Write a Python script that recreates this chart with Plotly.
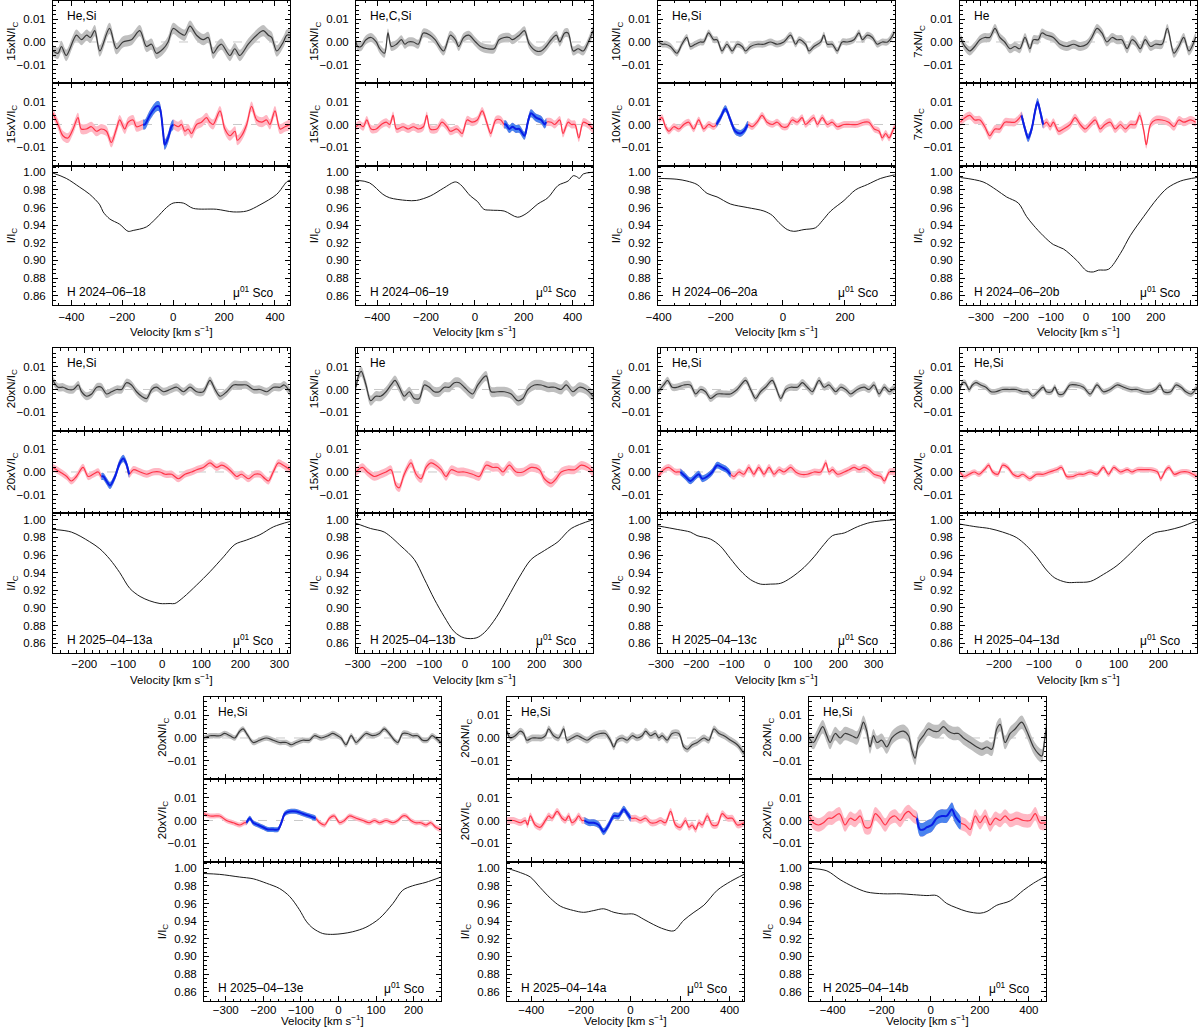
"""
plot.py
-------
LSD Stokes profiles (N, V, I) of mu01 Sco, one panel per observation.
"""

import plotly.graph_objects as go


# ---------------------------------------------------------------------------
# Data
# ---------------------------------------------------------------------------

LABELS = ["H 2024–06–18", "H 2024–06–19", "H 2024–06–20a", "H 2024–06–20b",
          "H 2025–04–13a", "H 2025–04–13b", "H 2025–04–13c", "H 2025–04–13d",
          "H 2025–04–13e", "H 2025–04–14a", "H 2025–04–14b"]
ELEMENTS = ["He,Si", "He,C,Si", "He,Si", "He", "He,Si", "He", "He,Si", "He,Si",
            "He,Si", "He,Si", "He,Si"]
SCALES = [15, 15, 10, 7, 20, 15, 20, 20, 20, 20, 20]
X_MIN = [-472, -487, -402, -360, -280, -305, -308, -298, -358, -498, -497]
X_MAX = [459, 484, 361, 318, 327, 358, 360, 297, 273, 458, 470]
X_DTICK = [200, 200, 200, 100, 100, 100, 100, 100, 100, 200, 200]
# velocity window of the detected signature (blue)
BLUE_LO = [-118, 120, -214, -185, -156, None, -245, None, -245, -186, -57]
BLUE_HI = [0, 292, -113, -122, -85, None, -104, None, -61, 0, 120]
N_ERR = [0.0025, 0.002, 0.0015, 0.002, 0.0018, 0.0022, 0.0016, 0.0013, 0.0012, 0.0015, 0.003]
V_ERR = [0.0022, 0.0018, 0.0015, 0.0018, 0.0016, 0.0019, 0.0015, 0.0012, 0.0011, 0.0015, 0.003]

# --- 2024-06-18
vn1 = [-472, -452, -439, -420, -380, -360, -340, -325, -308, -288, -250, -223, -197, -164, -131,
       -105, -85, -66, -39, -20, 0, 26, 45, 66, 92, 118, 138, 157, 177, 190, 223, 242, 262, 295,
       328, 354, 374, 387, 407, 433, 446, 459]
n1 = [-0.004, -0.005, -0.002, -0.006, 0.003, 0.001, 0.003, 0.002, 0.005, -0.004, 0.006, -0.003,
      0.000, 0.001, 0.005, -0.002, -0.001, -0.005, -0.003, 0.000, 0.006, 0.004, 0.003, 0.007,
      0.003, 0.001, 0.002, -0.005, -0.002, -0.001, -0.006, -0.003, -0.006, -0.001, 0.003, 0.005,
      0.003, 0.002, -0.004, 0.000, 0.003, 0.003]
vv1 = [-472, -452, -433, -413, -393, -374, -361, -341, -321, -302, -282, -262, -243, -223, -210,
       -190, -177, -157, -144, -118, -111, -92, -66, -55, -39, -33, -20, -7, 0, 20, 33, 46, 59, 72,
       92, 111, 131, 144, 157, 184, 203, 223, 243, 252, 269, 289, 308, 328, 348, 367, 380, 400,
       420, 439, 459]
v1 = [0.005, 0.000, -0.005, -0.006, -0.002, 0.003, -0.002, -0.002, -0.001, -0.003, -0.002, -0.003,
      -0.008, -0.002, 0.002, -0.002, 0.001, 0.002, -0.001, 0.000, 0.000, 0.004, 0.008, 0.008,
      -0.004, -0.009, -0.006, -0.001, 0.000, -0.001, 0.000, -0.003, -0.002, -0.004, 0.000, 0.001,
      0.003, 0.001, 0.000, 0.006, -0.002, -0.005, -0.003, -0.007, -0.005, 0.000, 0.008, 0.002,
      0.001, 0.002, 0.000, 0.006, -0.002, -0.001, 0.000]
vi1 = [-472, -420, -367, -328, -288, -275, -249, -210, -177, -157, -105, -66, -26, 0, 40, 79, 170,
       236, 289, 341, 407, 446, 459]
i1 = [0.999, 0.993, 0.983, 0.975, 0.963, 0.955, 0.947, 0.941, 0.933, 0.934, 0.938, 0.948, 0.960,
      0.965, 0.965, 0.959, 0.958, 0.955, 0.956, 0.963, 0.975, 0.989, 0.991]

# --- 2024-06-19
vn2 = [-487, -480, -466, -446, -425, -404, -390, -370, -356, -342, -321, -301, -287, -273, -252,
       -232, -211, -183, -163, -128, -101, -80, -66, -46, -25, 3, 23, 51, 79, 99, 120, 141, 154,
       182, 203, 223, 251, 272, 292, 313, 334, 348, 368, 382, 403, 423, 444, 465, 484]
n2 = [0.000, -0.002, -0.002, 0.001, 0.002, 0.000, -0.003, -0.005, 0.004, -0.002, -0.001, 0.001,
      -0.001, 0.000, 0.000, -0.001, 0.004, 0.003, 0.001, -0.004, 0.003, 0.001, -0.002, 0.002, 0.003,
      0.000, -0.002, -0.003, -0.003, 0.001, 0.002, 0.002, 0.001, 0.003, 0.005, -0.001, -0.004,
      -0.004, -0.002, 0.001, 0.003, 0.000, 0.004, 0.004, -0.004, -0.003, -0.004, 0.000, 0.005]
vv2 = [-487, -473, -457, -443, -425, -404, -383, -363, -349, -335, -321, -294, -273, -252, -232,
       -211, -197, -183, -156, -135, -114, -101, -73, -52, -32, -11, 10, 30, 51, 65, 86, 106, 120,
       127, 141, 154, 168, 182, 203, 217, 230, 251, 272, 286, 292, 313, 327, 348, 361, 382, 396,
       410, 426, 444, 465, 484]
v2 = [-0.001, 0.000, -0.001, 0.002, -0.002, -0.002, 0.000, 0.001, 0.000, 0.004, -0.002, -0.001,
      -0.002, -0.001, -0.002, -0.001, 0.004, -0.002, -0.002, 0.001, -0.001, -0.003, -0.002, -0.004,
      0.002, 0.001, 0.002, 0.006, 0.000, -0.004, 0.002, 0.002, 0.000, 0.000, -0.002, -0.001,
      -0.002, -0.002, -0.005, 0.001, 0.005, 0.003, 0.002, 0.000, 0.001, 0.001, 0.000, 0.002,
      -0.004, 0.001, 0.000, 0.000, -0.006, 0.001, 0.000, -0.002]
vi2 = [-487, -432, -377, -349, -280, -239, -183, -128, -80, -59, -18, 10, 37, 65, 120, 175, 210,
       258, 299, 341, 382, 403, 417, 428, 444, 484]
i2 = [0.991, 0.988, 0.975, 0.971, 0.968, 0.968, 0.973, 0.982, 0.989, 0.986, 0.973, 0.967, 0.958,
      0.957, 0.956, 0.949, 0.953, 0.964, 0.971, 0.985, 0.990, 0.996, 0.995, 0.993, 0.998, 1.000]

# --- 2024-06-20a
vn3 = [-400, -389, -378, -362, -341, -325, -309, -298, -282, -266, -255, -239, -223, -212, -196,
       -180, -163, -147, -131, -120, -104, -83, -61, -40, -18, 3, 25, 41, 52, 73, 84, 100, 122,
       132, 143, 159, 175, 191, 208, 229, 245, 256, 272, 288, 304, 320, 337, 358]
n3 = [0.000, -0.001, -0.001, -0.002, -0.005, -0.001, 0.002, -0.002, -0.001, 0.000, 0.000, 0.004,
      0.001, 0.001, -0.004, -0.001, -0.004, -0.001, -0.002, -0.004, -0.002, -0.001, -0.001, 0.000,
      -0.001, 0.000, 0.003, -0.001, 0.001, -0.001, -0.004, -0.002, 0.000, 0.003, -0.001, -0.001,
      -0.004, 0.000, 0.000, 0.001, 0.004, 0.001, 0.003, 0.002, -0.001, 0.000, 0.000, 0.004]
vv3 = [-400, -389, -378, -367, -351, -335, -319, -303, -287, -271, -255, -239, -223, -214, -201,
       -185, -169, -153, -137, -126, -113, -99, -83, -67, -51, -34, -18, -2, 14, 30, 46, 62, 73,
       89, 100, 111, 127, 143, 159, 175, 197, 218, 240, 261, 277, 294, 310, 320, 331, 342, 353,
       360]
v3 = [0.002, 0.003, -0.001, -0.003, -0.001, -0.002, 0.000, 0.001, -0.002, 0.002, -0.002, 0.000,
      -0.001, 0.000, 0.003, 0.007, 0.002, -0.003, -0.004, -0.003, 0.000, -0.001, 0.001, 0.004,
      0.001, 0.000, 0.001, -0.001, -0.001, 0.002, 0.001, 0.003, 0.000, 0.002, 0.003, 0.000, 0.003,
      0.000, 0.001, -0.001, 0.000, 0.000, 0.000, 0.001, 0.001, -0.002, -0.003, -0.006, -0.004,
      -0.006, -0.003, -0.001]
vi3 = [-400, -341, -309, -276, -244, -212, -169, -115, -61, -34, -13, 14, 35, 68, 105, 127, 154,
       197, 234, 272, 315, 360]
i3 = [0.993, 0.992, 0.990, 0.986, 0.976, 0.972, 0.964, 0.960, 0.956, 0.951, 0.943, 0.935, 0.933,
      0.935, 0.937, 0.945, 0.956, 0.968, 0.980, 0.986, 0.993, 0.997]

# --- 2024-06-20b
vn4 = [-359, -346, -332, -318, -303, -289, -275, -260, -246, -232, -217, -203, -189, -174, -160,
       -150, -136, -126, -112, -93, -74, -55, -35, -16, 3, 17, 32, 46, 60, 75, 89, 103, 118, 132,
       142, 156, 170, 185, 199, 218, 233, 252, 266, 280, 295, 314]
n4 = [0.002, -0.002, -0.004, -0.002, 0.001, 0.002, 0.002, 0.006, 0.002, 0.000, -0.003, -0.002,
      -0.003, 0.002, -0.003, 0.001, 0.001, 0.004, 0.003, 0.002, -0.001, -0.002, -0.001, -0.002,
      -0.001, 0.002, 0.006, 0.004, 0.000, 0.002, 0.001, 0.001, -0.003, 0.001, 0.000, -0.003, 0.001,
      -0.002, -0.001, -0.001, 0.006, -0.005, -0.002, 0.002, -0.004, 0.002]
vv4 = [-359, -346, -332, -318, -303, -289, -275, -260, -246, -232, -217, -203, -189, -184, -174,
       -165, -155, -145, -138, -131, -122, -112, -102, -93, -78, -64, -45, -31, -16, -2, 12, 27,
       41, 55, 70, 84, 99, 113, 127, 142, 154, 166, 173, 185, 199, 218, 237, 252, 266, 280, 300,
       314]
v4 = [0.001, 0.003, 0.004, 0.002, 0.002, -0.001, -0.005, -0.002, -0.002, 0.001, 0.001, 0.001,
      0.003, 0.004, -0.002, -0.006, -0.002, 0.006, 0.010, 0.006, 0.000, 0.001, -0.001, 0.001,
      -0.003, -0.002, 0.000, 0.003, 0.000, -0.002, 0.000, 0.002, -0.002, 0.000, 0.001, -0.002,
      0.000, -0.002, 0.000, 0.000, 0.004, -0.003, -0.009, 0.000, 0.002, 0.002, 0.001, -0.001,
      0.002, 0.001, 0.002, 0.001]
vi4 = [-359, -294, -256, -227, -193, -170, -150, -122, -93, -64, -26, 3, 22, 36, 65, 99, 127, 166,
       204, 233, 271, 318]
i4 = [0.994, 0.989, 0.980, 0.972, 0.965, 0.950, 0.940, 0.928, 0.918, 0.913, 0.900, 0.888, 0.887,
      0.889, 0.890, 0.908, 0.928, 0.950, 0.970, 0.982, 0.990, 0.994]

# --- 2025-04-13a
vn5 = [-280, -267, -254, -241, -228, -215, -207, -194, -181, -168, -156, -143, -130, -117, -104,
       -92, -79, -66, -53, -40, -27, -15, 3, 20, 37, 54, 71, 88, 105, 122, 135, 148, 165, 182, 199,
       216, 233, 250, 268, 285, 302, 312, 327]
n5 = [0.004, 0.001, 0.001, 0.000, 0.000, 0.002, -0.001, -0.003, -0.002, 0.001, 0.001, -0.002,
      -0.001, 0.000, 0.000, 0.003, 0.002, -0.001, -0.003, -0.004, 0.000, 0.001, -0.001, 0.000,
      0.001, -0.001, 0.001, -0.001, -0.001, 0.004, 0.000, -0.003, -0.001, 0.002, 0.002, 0.002,
      0.000, 0.000, -0.001, 0.001, 0.001, 0.002, -0.001]
vv5 = [-280, -262, -245, -233, -220, -203, -190, -177, -164, -156, -151, -143, -134, -121, -109,
       -100, -93, -85, -74, -57, -40, -23, -6, 7, 24, 41, 58, 75, 88, 105, 122, 139, 152, 165, 178,
       190, 203, 220, 237, 250, 263, 272, 284, 297, 310, 327]
v5 = [0.002, 0.000, -0.002, -0.004, -0.002, 0.002, -0.002, -0.001, 0.000, -0.002, -0.002, -0.004,
      -0.006, -0.002, 0.004, 0.006, 0.004, -0.001, 0.001, 0.000, -0.001, 0.000, 0.000, -0.001,
      -0.001, -0.003, -0.001, 0.000, 0.001, 0.002, 0.004, 0.002, 0.003, 0.002, 0.000, -0.002,
      -0.001, -0.003, -0.001, -0.001, -0.003, -0.004, 0.000, 0.004, 0.003, 0.001]
vi5 = [-280, -233, -186, -160, -134, -109, -83, -57, -32, -6, 20, 32, 54, 88, 122, 157, 186, 216,
       250, 285, 327]
i5 = [0.989, 0.986, 0.975, 0.967, 0.955, 0.940, 0.922, 0.913, 0.908, 0.905, 0.905, 0.905, 0.912,
      0.926, 0.941, 0.958, 0.972, 0.977, 0.983, 0.992, 0.998]

# --- 2025-04-13b
vn6 = [-305, -296, -290, -277, -264, -250, -236, -221, -207, -196, -184, -170, -156, -142, -128,
       -114, -100, -86, -72, -58, -44, -30, -16, -2, 21, 36, 59, 73, 92, 110, 129, 148, 162, 176,
       194, 213, 232, 250, 269, 283, 302, 320, 339, 358]
n6 = [0.001, 0.007, 0.008, 0.002, -0.005, -0.003, -0.003, -0.001, 0.002, 0.004, 0.001, -0.003,
      -0.001, -0.004, -0.004, 0.002, 0.001, -0.001, -0.001, 0.001, 0.001, 0.003, 0.003, 0.001,
      -0.002, 0.002, 0.006, -0.001, -0.001, -0.001, -0.002, -0.005, -0.004, 0.000, 0.002, 0.002,
      0.001, 0.001, 0.000, 0.002, -0.001, 0.001, 0.000, -0.003]
vv6 = [-305, -287, -273, -254, -236, -221, -207, -193, -184, -170, -151, -137, -123, -109, -95,
       -81, -67, -53, -39, -21, -2, 21, 40, 59, 78, 92, 106, 124, 143, 162, 185, 208, 222, 241,
       255, 269, 288, 307, 325, 344, 358]
v6 = [0.000, 0.002, 0.000, -0.002, -0.001, 0.000, 0.001, -0.006, -0.007, -0.001, 0.004, -0.001,
      -0.003, 0.002, 0.004, 0.003, 0.001, -0.002, 0.001, 0.000, 0.000, -0.001, -0.002, 0.003,
      0.002, 0.002, 0.000, 0.003, 0.000, 0.000, 0.002, 0.001, -0.003, -0.005, -0.003, 0.000,
      0.001, 0.001, 0.003, 0.002, 0.000]
vi6 = [-305, -264, -226, -179, -142, -114, -86, -58, -30, -2, 31, 54, 87, 120, 152, 185, 222, 260,
       297, 358]
i6 = [0.996, 0.990, 0.986, 0.970, 0.955, 0.933, 0.910, 0.890, 0.873, 0.866, 0.866, 0.872, 0.889,
      0.912, 0.935, 0.955, 0.965, 0.975, 0.990, 1.000]

# --- 2025-04-13c
vn7 = [-308, -292, -281, -268, -254, -235, -217, -202, -188, -174, -160, -141, -122, -104, -85,
       -61, -47, -33, -19, -5, 14, 24, 38, 52, 66, 85, 99, 113, 127, 146, 160, 174, 193, 207, 221,
       235, 254, 273, 287, 301, 315, 330, 344, 360]
n7 = [-0.001, 0.002, 0.004, 0.001, 0.001, 0.002, 0.002, -0.002, 0.000, -0.001, -0.004, -0.002,
      -0.002, -0.002, 0.000, 0.004, 0.000, -0.004, -0.001, 0.001, 0.004, 0.001, -0.004, 0.000,
      0.001, 0.001, 0.003, 0.001, -0.001, 0.004, 0.001, 0.002, -0.001, 0.001, 0.000, -0.002,
      0.000, 0.001, 0.000, 0.002, -0.002, 0.001, -0.001, 0.001]
vv7 = [-308, -292, -278, -259, -245, -231, -217, -202, -193, -183, -169, -155, -141, -127, -115,
       -104, -94, -80, -66, -52, -38, -24, -9, 5, 19, 33, 47, 66, 80, 94, 113, 132, 151, 165, 174,
       184, 198, 217, 231, 245, 259, 273, 287, 301, 320, 330, 344, 360]
v7 = [-0.002, 0.001, 0.002, 0.000, 0.000, -0.002, -0.004, -0.002, -0.001, -0.003, -0.002, 0.000,
      0.003, 0.002, 0.001, -0.001, -0.002, 0.000, -0.001, 0.002, -0.001, 0.002, -0.001, 0.002,
      -0.001, 0.001, 0.000, 0.002, 0.000, -0.001, -0.001, 0.000, 0.000, 0.004, 0.000, 0.001,
      -0.001, 0.000, 0.001, 0.002, 0.001, 0.002, 0.001, -0.001, -0.002, -0.004, 0.000, 0.000]
vi7 = [-308, -254, -217, -198, -160, -132, -104, -75, -47, -19, 9, 38, 66, 104, 132, 160, 184,
       217, 254, 292, 360]
i7 = [0.993, 0.989, 0.986, 0.982, 0.978, 0.970, 0.956, 0.942, 0.932, 0.927, 0.927, 0.928, 0.934,
      0.946, 0.958, 0.972, 0.982, 0.985, 0.992, 0.997, 1.000]

# --- 2025-04-13d
vn8 = [-298, -292, -285, -275, -267, -258, -246, -233, -220, -208, -191, -174, -157, -140, -127,
       -115, -102, -89, -81, -68, -60, -51, -39, -22, -5, 12, 29, 46, 62, 79, 96, 113, 130, 147,
       164, 181, 193, 204, 214, 231, 244, 257, 269, 282, 297]
n8 = [0.000, 0.003, 0.003, 0.000, 0.002, 0.003, 0.002, 0.001, -0.001, -0.001, 0.000, 0.000, 0.000,
      -0.001, -0.001, -0.003, -0.001, 0.001, -0.001, -0.001, 0.001, -0.002, -0.002, 0.002, 0.002,
      0.001, -0.002, 0.002, -0.001, 0.000, 0.002, 0.001, 0.000, 0.000, -0.001, -0.001, 0.000,
      0.002, -0.001, -0.001, 0.002, 0.001, -0.001, -0.002, 0.001]
vv8 = [-298, -288, -275, -262, -250, -237, -226, -216, -203, -191, -178, -165, -153, -140, -123,
       -106, -89, -73, -56, -43, -30, -14, -1, 12, 29, 46, 62, 75, 88, 105, 122, 134, 147, 164,
       181, 198, 206, 219, 227, 240, 257, 274, 297]
v8 = [0.000, -0.002, -0.001, 0.000, -0.001, 0.001, 0.003, 0.000, -0.001, 0.003, 0.002, -0.001,
      -0.002, -0.001, -0.003, -0.001, -0.001, 0.000, 0.001, 0.002, -0.002, -0.002, -0.001, -0.001,
      0.000, -0.001, 0.002, -0.001, 0.002, 0.000, 0.001, 0.000, 0.001, 0.001, 0.001, 0.000,
      -0.003, 0.001, 0.002, -0.001, 0.000, 0.000, -0.002]
vi8 = [-298, -258, -224, -191, -157, -132, -106, -81, -60, -30, -5, 29, 62, 96, 130, 164, 190,
       223, 257, 297]
i8 = [0.995, 0.992, 0.990, 0.986, 0.980, 0.971, 0.958, 0.943, 0.934, 0.929, 0.929, 0.930, 0.938,
      0.948, 0.962, 0.977, 0.985, 0.988, 0.992, 0.999]

# --- 2025-04-13e
vn9 = [-358, -342, -329, -316, -303, -289, -276, -263, -254, -241, -227, -210, -192, -174, -157,
       -139, -126, -112, -95, -77, -64, -46, -28, -15, -2, 7, 20, 34, 47, 60, 73, 91, 109, 122, 135,
       149, 158, 171, 184, 197, 211, 224, 237, 249, 259, 273]
n9 = [0.000, 0.001, 0.001, 0.001, 0.002, 0.001, 0.000, 0.003, 0.004, 0.001, -0.002, -0.001, 0.000,
      -0.001, -0.002, -0.002, -0.003, -0.002, -0.001, -0.001, 0.001, 0.000, 0.001, 0.002, 0.001,
      0.000, -0.003, 0.001, -0.002, 0.000, 0.002, 0.001, 0.002, 0.004, 0.002, -0.001, -0.002,
      0.002, 0.002, 0.001, 0.001, -0.001, -0.001, 0.001, 0.000, -0.002]
vv9 = [-358, -342, -329, -316, -298, -280, -263, -250, -245, -236, -227, -214, -201, -188, -174,
       -161, -152, -143, -130, -112, -95, -77, -61, -50, -37, -24, -11, 3, 16, 29, 47, 65, 82, 96,
       109, 127, 145, 158, 171, 180, 193, 206, 219, 233, 246, 259, 273]
v9 = [0.003, 0.002, 0.002, 0.002, 0.000, -0.001, -0.002, -0.001, -0.001, 0.001, -0.001, -0.002,
      -0.003, -0.004, -0.004, -0.004, -0.001, 0.003, 0.004, 0.004, 0.003, 0.002, 0.001, -0.001,
      -0.002, 0.001, 0.002, -0.001, 0.000, 0.002, 0.001, 0.000, -0.001, 0.000, -0.001, 0.000,
      -0.001, 0.000, 0.002, 0.002, 0.000, -0.001, -0.001, -0.002, -0.001, -0.003, -0.004]
vi9 = [-358, -316, -263, -227, -192, -157, -130, -104, -86, -68, -42, -15, 12, 38, 73, 109, 145,
       171, 197, 233, 273]
i9 = [0.994, 0.993, 0.990, 0.988, 0.983, 0.977, 0.968, 0.953, 0.940, 0.932, 0.926, 0.925, 0.926,
      0.928, 0.933, 0.943, 0.960, 0.975, 0.980, 0.984, 0.990]

# --- 2025-04-14a
vn10 = [-498, -485, -465, -444, -431, -418, -397, -377, -357, -343, -330, -310, -290, -269, -256,
        -236, -215, -195, -175, -148, -121, -101, -81, -67, -54, -34, -13, 7, 27, 47, 61, 81, 101,
        114, 128, 148, 168, 195, 215, 229, 249, 269, 296, 316, 337, 357, 377, 404, 431, 458]
n10 = [0.003, 0.000, 0.001, 0.003, 0.002, -0.001, 0.000, 0.000, 0.000, 0.001, 0.004, 0.001, 0.000,
       0.004, -0.001, 0.000, 0.001, 0.000, -0.001, 0.001, 0.002, 0.002, -0.001, -0.004, -0.001,
       0.000, -0.001, 0.001, 0.000, 0.001, 0.003, 0.001, 0.002, 0.000, 0.001, -0.001, 0.002, 0.002,
       -0.004, -0.005, -0.003, -0.002, 0.000, -0.001, 0.004, 0.002, 0.001, -0.001, -0.003, -0.007]
vv10 = [-498, -472, -444, -424, -415, -404, -384, -364, -343, -330, -316, -296, -276, -263, -249,
        -236, -222, -209, -195, -186, -168, -148, -128, -108, -88, -67, -47, -27, -13, 0, 20, 40,
        61, 81, 101, 121, 141, 162, 182, 202, 222, 236, 249, 263, 276, 290, 310, 330, 350, 370,
        391, 411, 431, 458]
v10 = [0.000, 0.000, -0.001, 0.000, -0.002, 0.002, -0.002, -0.003, 0.000, 0.002, 0.001, 0.004,
       0.001, 0.000, 0.002, -0.001, 0.000, 0.002, 0.000, 0.000, -0.001, -0.001, -0.002, -0.005,
       -0.002, 0.002, 0.002, 0.005, 0.003, 0.001, 0.001, 0.000, 0.001, -0.001, -0.001, 0.000,
       -0.001, 0.004, -0.002, -0.003, 0.000, -0.003, -0.002, -0.004, -0.001, -0.002, 0.002,
       -0.002, -0.002, 0.003, 0.001, 0.001, -0.002, -0.001]
vi10 = [-498, -444, -404, -364, -323, -283, -229, -189, -148, -108, -67, -27, 13, 54, 94, 135, 175,
        215, 256, 296, 350, 404, 458]
i10 = [1.000, 0.995, 0.990, 0.978, 0.966, 0.957, 0.952, 0.950, 0.952, 0.954, 0.950, 0.948, 0.948,
       0.942, 0.936, 0.931, 0.929, 0.941, 0.950, 0.958, 0.975, 0.985, 0.993]

# --- 2025-04-14b
vn11 = [-497, -479, -458, -441, -424, -411, -390, -370, -350, -322, -302, -288, -275, -261, -248,
        -234, -220, -200, -180, -159, -139, -112, -91, -78, -64, -50, -30, -10, 11, 31, 52, 72, 93,
        113, 133, 161, 188, 208, 229, 249, 269, 283, 303, 324, 344, 371, 392, 419, 439, 453, 463,
        470]
n11 = [0.000, -0.002, 0.002, 0.005, 0.001, -0.002, 0.002, 0.000, 0.002, 0.001, 0.000, 0.003, 0.007,
       0.003, -0.004, 0.001, -0.002, -0.001, -0.004, 0.000, 0.002, 0.003, 0.001, -0.005, -0.009,
       -0.002, 0.001, 0.004, 0.003, 0.003, 0.005, 0.003, 0.002, 0.002, 0.000, -0.002, -0.004,
       -0.005, -0.004, -0.005, 0.004, 0.006, -0.002, 0.002, 0.004, 0.007, 0.003, -0.004, -0.007,
       -0.008, -0.002, 0.004]
vv11 = [-497, -479, -458, -438, -418, -404, -373, -350, -329, -309, -288, -268, -248, -227, -207,
        -186, -166, -146, -125, -105, -91, -71, -57, -44, -30, -16, 4, 24, 45, 65, 86, 99, 120, 140,
        161, 181, 201, 222, 242, 263, 283, 303, 324, 351, 378, 405, 426, 446, 470]
v11 = [0.002, -0.001, -0.002, -0.001, 0.001, 0.001, 0.003, -0.002, 0.001, 0.000, 0.002, -0.003,
       -0.003, 0.003, 0.001, -0.002, 0.001, 0.002, 0.000, 0.003, 0.004, 0.002, 0.001, -0.004,
       -0.004, -0.003, -0.002, 0.001, 0.002, 0.002, 0.005, 0.002, -0.001, -0.002, -0.004, 0.002,
       -0.001, 0.002, -0.002, 0.001, 0.000, 0.002, 0.000, 0.001, 0.000, 0.000, 0.003, -0.001,
       -0.001]
vi11 = [-497, -424, -370, -316, -261, -193, -125, -71, -16, 24, 65, 106, 147, 201, 229, 269, 324,
        378, 419, 470]
i11 = [1.000, 0.997, 0.987, 0.979, 0.973, 0.971, 0.971, 0.970, 0.969, 0.969, 0.960, 0.955, 0.951,
       0.949, 0.951, 0.958, 0.963, 0.975, 0.983, 0.991]

N_VEL = [vn1, vn2, vn3, vn4, vn5, vn6, vn7, vn8, vn9, vn10, vn11]
N_VAL = [n1, n2, n3, n4, n5, n6, n7, n8, n9, n10, n11]
V_VEL = [vv1, vv2, vv3, vv4, vv5, vv6, vv7, vv8, vv9, vv10, vv11]
V_VAL = [v1, v2, v3, v4, v5, v6, v7, v8, v9, v10, v11]
I_VEL = [vi1, vi2, vi3, vi4, vi5, vi6, vi7, vi8, vi9, vi10, vi11]
I_VAL = [i1, i2, i3, i4, i5, i6, i7, i8, i9, i10, i11]


# ---------------------------------------------------------------------------
# Page geometry (pixels)
# ---------------------------------------------------------------------------

W, H = 1200, 1032
PANEL_LEFT = [53, 356, 658, 960, 53, 356, 658, 960, 204, 507, 809]
PANEL_TOP = [0.5] * 4 + [348] * 4 + [696.5] * 3
PANEL_W = 237
SUB_H = [82.5, 82.5, 139.5]  # N, V, I
# bottom row sits tighter against the page edge
XLAB_STANDOFF = [1] * 8 + [-2] * 3
XTITLE_GAP = [26] * 8 + [18.5] * 3

FONT = "Liberation Sans, Arial, Helvetica, sans-serif"
TICK_FONT = dict(family=FONT, size=11.5, color="black")
TXT_FONT = dict(family=FONT, size=12, color="black")

GREY_BAND, GREY_LINE = "#bfbfbf", "#3a3a3a"
RED_BAND, RED_LINE = "#ffb8c4", "#ff3347"
BLUE_BAND, BLUE_LINE = "#4a83ef", "#0a1ee6"
SMOOTH = 0.9


def px_x(px):
    return px / W


def px_y(py):
    return 1 - py / H


def _band(fig, vel, val, err, color, ref):
    xs = list(vel) + list(vel[::-1])
    ys = [v + err for v in val] + [v - err for v in val[::-1]]
    fig.add_scatter(x=xs, y=ys, xaxis=ref[0], yaxis=ref[1], fill="toself", fillcolor=color,
                    mode="lines",
                    line=dict(width=0, color=color, shape="spline", smoothing=SMOOTH),
                    hoverinfo="skip", showlegend=False)


def _line(fig, vel, val, color, width, ref):
    fig.add_scatter(x=vel, y=val, xaxis=ref[0], yaxis=ref[1], mode="lines",
                    line=dict(color=color, width=width, shape="spline", smoothing=SMOOTH),
                    hoverinfo="skip", showlegend=False)


# ---------------------------------------------------------------------------
# Figure
# ---------------------------------------------------------------------------

fig = go.Figure()
layout = {}
annotations = []
shapes = []

for p in range(11):
    left, top = PANEL_LEFT[p], PANEL_TOP[p]
    right = left + PANEL_W
    minor_x = 50 if X_DTICK[p] == 200 else 20
    y0 = top
    for s in range(3):
        k = p * 3 + s + 1
        xs = "" if k == 1 else str(k)
        ref = ("x" + xs, "y" + xs)
        y1 = y0 + SUB_H[s]

        layout["xaxis" + xs] = dict(
            domain=[px_x(left), px_x(right)], anchor="y" + xs, automargin=False,
            range=[X_MIN[p], X_MAX[p]], dtick=X_DTICK[p], tick0=0,
            showticklabels=(s == 2), tickfont=TICK_FONT, ticklabelstandoff=XLAB_STANDOFF[p],
            ticks="inside", ticklen=5, tickcolor="black", tickwidth=1,
            minor=dict(ticks="inside", ticklen=2.5, dtick=minor_x, tick0=0, tickcolor="black"),
            showline=True, linecolor="black", linewidth=1, mirror="allticks",
            showgrid=False, zeroline=False,
        )
        if s < 2:
            yax = dict(range=[-0.0182, 0.0184], dtick=0.01, tick0=0,
                       minor=dict(ticks="inside", ticklen=2.5, dtick=0.002, tick0=0,
                                  tickcolor="black"))
        else:
            yax = dict(range=[0.8495, 1.0076], dtick=0.02, tick0=0.86,
                       minor=dict(ticks="inside", ticklen=2.5, dtick=0.005, tick0=0.86,
                                  tickcolor="black"))
        yax.update(
            domain=[px_y(y1), px_y(y0)], anchor="x" + xs, automargin=False, tickformat=".2f",
            tickfont=TICK_FONT, ticklabelstandoff=4,
            ticks="inside", ticklen=5, tickcolor="black", tickwidth=1,
            showline=True, linecolor="black", linewidth=1, mirror="allticks",
            showgrid=False, zeroline=False,
        )
        layout["yaxis" + xs] = yax

        # y-axis title
        ytitle = ("I/I<sub>C</sub>" if s == 2 else
                  f"{SCALES[p]}x{'N' if s == 0 else 'V'}/I<sub>C</sub>")
        annotations.append(dict(text=ytitle, textangle=-90, font=TICK_FONT,
                                xref="paper", yref="paper",
                                x=px_x(left - 41), y=px_y((y0 + y1) / 2),
                                xanchor="center", yanchor="middle", showarrow=False))

        if s < 2:
            shapes.append(dict(type="line", xref=ref[0] + " domain", yref=ref[1],
                               x0=0, x1=1, y0=0, y1=0, layer="below",
                               line=dict(color="#c8c8c8", width=1, dash="dash")))

        if s == 0:
            _band(fig, N_VEL[p], N_VAL[p], N_ERR[p], GREY_BAND, ref)
            _line(fig, N_VEL[p], N_VAL[p], GREY_LINE, 1.2, ref)
            annotations.append(dict(text=ELEMENTS[p], font=TXT_FONT, showarrow=False,
                                    xref="paper", yref="paper",
                                    x=px_x(left + 12), y=px_y(y0 + 15),
                                    xanchor="left", yanchor="middle"))
        elif s == 1:
            vel, val = V_VEL[p], V_VAL[p]
            _band(fig, vel, val, V_ERR[p], RED_BAND, ref)
            _line(fig, vel, val, RED_LINE, 1.2, ref)
            if BLUE_LO[p] is not None:
                sel = [i for i, v in enumerate(vel) if BLUE_LO[p] <= v <= BLUE_HI[p]]
                bv = [vel[i] for i in sel]
                bval = [val[i] for i in sel]
                _band(fig, bv, bval, V_ERR[p], BLUE_BAND, ref)
                _line(fig, bv, bval, BLUE_LINE, 2, ref)
        else:
            _line(fig, I_VEL[p], I_VAL[p], "#1a1a1a", 1, ref)
            annotations.append(dict(text=LABELS[p], font=TXT_FONT, showarrow=False,
                                    xref="paper", yref="paper",
                                    x=px_x(left + 12), y=px_y(y1 - 13),
                                    xanchor="left", yanchor="middle"))
            annotations.append(dict(text="μ<sup>01</sup> Sco", font=TXT_FONT, showarrow=False,
                                    xref="paper", yref="paper",
                                    x=px_x(right - 14), y=px_y(y1 - 13),
                                    xanchor="right", yanchor="middle"))
            annotations.append(dict(text="Velocity [km s<sup>−1</sup>]", font=TICK_FONT,
                                    showarrow=False, xref="paper", yref="paper",
                                    x=px_x((left + right) / 2), y=px_y(y1 + XTITLE_GAP[p]),
                                    xanchor="center", yanchor="middle"))
        y0 = y1

fig.update_layout(
    template="none",
    width=W, height=H, autosize=False,
    margin=dict(l=0, r=0, t=0, b=0, autoexpand=False),
    paper_bgcolor="white", plot_bgcolor="white",
    font=TICK_FONT, showlegend=False, hovermode=False,
    annotations=annotations, shapes=shapes,
    **layout,
)

# the page body keeps its default 8px margin otherwise
fig.write_html("out.html", config={"displayModeBar": False, "staticPlot": True},
               post_script="document.body.style.margin='0px';"
                           "document.body.style.overflow='hidden';")
